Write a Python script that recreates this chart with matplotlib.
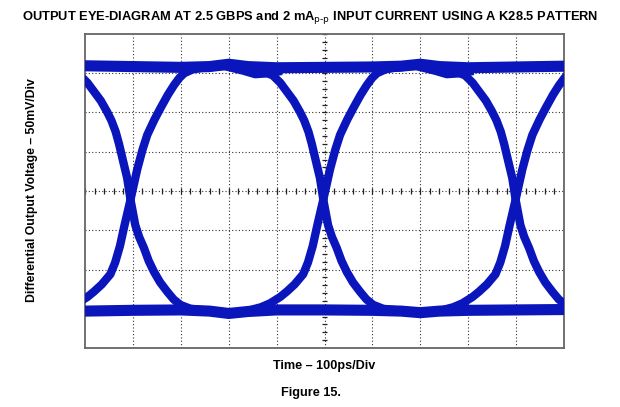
import numpy as np
import matplotlib.pyplot as plt

# --- Data (scope divisions: x 0..10, y -4..4) ---

# crossing times of the eye (div)
crossings = [0.95, 4.975, 8.99]

# rising edge profile, relative to each crossing
rise_dx = [-1.55, -1.30, -1.11, -0.90, -0.76, -0.60, -0.42, -0.32, -0.22, -0.13, 0.0,
           0.14, 0.25, 0.35, 0.50, 0.63, 0.78, 0.91, 1.02, 1.12, 1.30, 1.60]
rise_y = [-3.04, -2.96, -2.86, -2.70, -2.56, -2.38, -2.12, -1.82, -1.40, -0.90, -0.22,
          0.55, 1.05, 1.43, 1.82, 2.12, 2.45, 2.70, 2.88, 3.00, 3.10, 3.16]

# falling edge profile, relative to each crossing
fall_dx = [-1.55, -1.30, -1.05, -0.90, -0.76, -0.62, -0.49, -0.40, -0.31, -0.24, -0.17, -0.07,
           0.0, 0.10, 0.18, 0.28, 0.38, 0.49, 0.62, 0.77, 0.90, 1.04, 1.25, 1.55]
fall_y = [3.16, 3.08, 2.94, 2.76, 2.53, 2.30, 2.02, 1.80, 1.51, 1.20, 0.84, 0.33,
          -0.22, -0.87, -1.17, -1.45, -1.78, -2.06, -2.33, -2.57, -2.76, -2.90, -3.00, -3.04]

# high / low level traces
top_x = [0.0, 1.0, 2.0, 2.6, 3.0, 3.4, 4.0, 5.0, 6.0, 6.6, 7.0, 7.4, 8.0, 9.0, 10.0]
top_y = [3.19, 3.17, 3.15, 3.17, 3.23, 3.17, 3.14, 3.15, 3.16, 3.18, 3.23, 3.17, 3.14, 3.16, 3.18]
bot_x = [0.0, 1.0, 2.0, 2.6, 3.0, 3.4, 4.0, 5.0, 6.0, 6.6, 7.0, 7.4, 8.0, 9.0, 10.0]
bot_y = [-3.06, -3.04, -3.03, -3.06, -3.12, -3.07, -3.03, -3.03, -3.04, -3.06, -3.10, -3.06, -3.04, -3.03, -3.02]

# lower trace inside the high level (after overshoot)
dip_x = [2.3, 2.9, 3.3, 3.55, 3.8, 4.05]
dip_y = [3.10, 3.16, 3.04, 2.95, 2.97, 3.02]

TRACE = '#0a16bb'

fig = plt.figure(figsize=(6.2, 4.07), dpi=100)
ax = fig.add_axes([85 / 620, 59 / 407, 479 / 620, 314 / 407])
ax.set_xlim(0, 10)
ax.set_ylim(-4, 4)

# graticule
for gx in range(1, 10):
    ax.axvline(gx, color='#333333', lw=0.8, ls=(0, (1, 2)), zorder=1)
for gy in range(-3, 4):
    ax.axhline(gy, color='#333333', lw=0.8, ls=(0, (1, 2)), zorder=1)

# minor ticks on the centre lines
mx = np.arange(0, 10.01, 0.2)
ax.vlines(mx, -0.07, 0.07, color='#222222', lw=0.9, zorder=1)
my = np.arange(-4, 4.01, 0.2)
ax.hlines(my, 4.94, 5.06, color='#222222', lw=0.9, zorder=1)

# traces
ax.plot(top_x, top_y, color=TRACE, lw=8, solid_capstyle='butt', zorder=3)
ax.plot(bot_x, bot_y, color=TRACE, lw=8, solid_capstyle='butt', zorder=3)
for sh in [0, 4.0]:
    ax.plot(np.array(dip_x) + sh, dip_y, color=TRACE, lw=4.5,
            solid_joinstyle='round', zorder=3)
for c in crossings:
    ax.plot(np.array(rise_dx) + c, rise_y, color=TRACE, lw=6,
            solid_joinstyle='round', zorder=3)
    ax.plot(np.array(fall_dx) + c, fall_y, color=TRACE, lw=6,
            solid_joinstyle='round', zorder=3)

ax.set_xticks([])
ax.set_yticks([])
for s in ax.spines.values():
    s.set_color('#666666')
    s.set_linewidth(1.3)

font = 'Liberation Sans'
fig.text(0.5, 1 - 18 / 407,
         'OUTPUT EYE-DIAGRAM AT 2.5 GBPS and 2 mA$_{\\text{p-p}}$ INPUT CURRENT USING A K28.5 PATTERN',
         ha='center', va='center', fontsize=9.3, fontweight='bold', family=font)
fig.text(32 / 620, 1 - 190 / 407, 'Differential Output Voltage \u2013 50mV/Div',
         ha='center', va='center', rotation=90, fontsize=8.8, fontweight='bold', family=font)
fig.text(324 / 620, 1 - 366 / 407, 'Time \u2013 100ps/Div',
         ha='center', va='center', fontsize=9.1, fontweight='bold', family=font)
fig.text(311 / 620, 1 - 393 / 407, 'Figure 15.',
         ha='center', va='center', fontsize=9.2, fontweight='bold', family=font)

fig.savefig('out.png', dpi=100)
